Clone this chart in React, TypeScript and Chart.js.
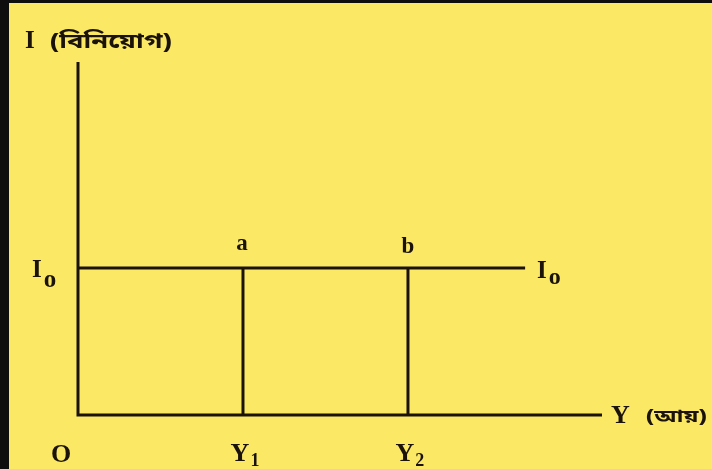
import React, { useEffect, useRef } from "react";
import { Chart, registerables } from "chart.js";

Chart.register(...registerables);

// Income levels marked on the horizontal axis (Y1, Y2)
const incomeLevels = [1, 2];
const incomeTickBase = ["Y", "Y"];
const incomeTickSub = ["1", "2"];
// Points on the investment line above each income level
const pointLabels = ["a", "b"];
// Autonomous investment level I0
const investmentLevel = 1;
const investmentLineEnd = 2.71;
// Axis extents
const incomeAxisMax = 3.176;
const investmentAxisMax = 2.4;
// Axis titles
const yAxisBase = "I";
const yAxisWord = "(বিনিয়োগ)";
const xAxisBase = "Y";
const xAxisWord = "(আয়)";
const originLabel = "O";
const investmentBase = "I";
const investmentSub = "o";

const INK = "#1b1309";
const PAPER = "#fbe966";
const FRAME = "#0e0e0e";
const SERIF = "'Liberation Serif', 'DejaVu Serif', serif";
const BENGALI = "'Noto Sans Bengali', 'Noto Serif Bengali', 'Lohit Bengali', 'Liberation Serif', sans-serif";

function drawSub(
  ctx: CanvasRenderingContext2D,
  base: string,
  sub: string,
  x: number,
  y: number,
  align: "left" | "center",
  baseSize: number,
  subSize: number,
  subDrop: number,
  gap: number
) {
  ctx.font = `bold ${baseSize}px ${SERIF}`;
  const wb = ctx.measureText(base).width;
  ctx.font = `bold ${subSize}px ${SERIF}`;
  const ws = ctx.measureText(sub).width;
  const total = wb + gap + ws;
  const left = align === "center" ? x - total / 2 : x;
  ctx.textAlign = "left";
  ctx.font = `bold ${baseSize}px ${SERIF}`;
  ctx.fillText(base, left, y);
  ctx.font = `bold ${subSize}px ${SERIF}`;
  ctx.fillText(sub, left + wb + gap, y + subDrop);
}

// Draws left-aligned text widened horizontally by a factor
function drawWide(ctx: CanvasRenderingContext2D, text: string, x: number, y: number, font: string, stretch: number) {
  ctx.save();
  ctx.font = font;
  ctx.textAlign = "left";
  ctx.translate(x, y);
  ctx.scale(stretch, 1);
  ctx.fillText(text, 0, 0);
  ctx.restore();
}

const paperPlugin = {
  id: "paper",
  beforeDraw(chart: Chart) {
    const { ctx, width, height } = chart;
    ctx.save();
    ctx.fillStyle = FRAME;
    ctx.fillRect(0, 0, width, height);
    ctx.fillStyle = PAPER;
    ctx.fillRect(9, 3, width - 9, height - 3);
    ctx.restore();
  },
};

const labelPlugin = {
  id: "diagramLabels",
  afterDatasetsDraw(chart: Chart) {
    const { ctx } = chart;
    const xs = chart.scales.x;
    const ys = chart.scales.y;
    const px = (v: number) => xs.getPixelForValue(v);
    const py = (v: number) => ys.getPixelForValue(v);
    ctx.save();
    ctx.fillStyle = INK;
    ctx.textBaseline = "alphabetic";

    // Vertical axis title
    ctx.textAlign = "left";
    ctx.font = `bold 25px ${SERIF}`;
    ctx.fillText(yAxisBase, px(0) - 53, py(investmentAxisMax) - 14);
    drawWide(ctx, yAxisWord, px(0) - 28, py(investmentAxisMax) - 14, `bold 21px ${BENGALI}`, 1.3);

    // Horizontal axis title
    ctx.font = `bold 26px ${SERIF}`;
    ctx.fillText(xAxisBase, px(incomeAxisMax) + 9, py(0) + 8);
    drawWide(ctx, xAxisWord, px(incomeAxisMax) + 44, py(0) + 7, `bold 18px ${BENGALI}`, 1.35);

    // Origin
    ctx.textAlign = "center";
    ctx.font = `bold 26px ${SERIF}`;
    ctx.fillText(originLabel, px(0) - 17, py(0) + 47);

    // I0 on both ends of the investment line
    drawSub(ctx, investmentBase, investmentSub, px(0) - 46, py(investmentLevel) + 9, "left", 25, 25, 10, 2);
    drawSub(ctx, investmentBase, investmentSub, px(investmentLineEnd) + 12, py(investmentLevel) + 10, "left", 25, 24, 6, 2);

    // Income levels and the matching points
    incomeLevels.forEach((lv, i) => {
      drawSub(ctx, incomeTickBase[i], incomeTickSub[i], px(lv) + 2, py(0) + 46, "center", 26, 18, 5, 1);
      ctx.textAlign = "center";
      ctx.font = `bold 23px ${SERIF}`;
      ctx.fillText(pointLabels[i], px(lv) - (i === 0 ? 1 : 0), py(investmentLevel) - (i === 0 ? 18 : 15));
    });

    ctx.restore();
  },
};

const lineStyle = {
  showLine: true,
  pointRadius: 0,
  borderColor: INK,
  borderWidth: 3,
  borderCapStyle: "butt" as const,
  borderJoinStyle: "miter" as const,
  clip: false as const,
  tension: 0,
};

export default function App() {
  const ref = useRef<HTMLCanvasElement>(null);

  useEffect(() => {
    if (!ref.current) return;
    const datasets: any[] = [
      {
        label: "axes",
        data: [
          { x: 0, y: investmentAxisMax },
          { x: 0, y: 0 },
          { x: incomeAxisMax, y: 0 },
        ],
        ...lineStyle,
      },
      {
        label: "I0",
        data: [
          { x: 0, y: investmentLevel },
          { x: investmentLineEnd, y: investmentLevel },
        ],
        ...lineStyle,
      },
      ...incomeLevels.map((lv, i) => ({
        label: incomeTickBase[i] + incomeTickSub[i],
        data: [
          { x: lv, y: 0 },
          { x: lv, y: investmentLevel },
        ],
        ...lineStyle,
      })),
    ];

    const chart = new Chart(ref.current, {
      type: "scatter",
      data: { datasets },
      options: {
        animation: false,
        responsive: false,
        devicePixelRatio: 1,
        layout: { padding: { left: 78, right: 110, top: 62, bottom: 54 } },
        plugins: { legend: { display: false }, tooltip: { enabled: false } },
        scales: {
          x: { type: "linear", min: 0, max: incomeAxisMax, display: false },
          y: { type: "linear", min: 0, max: investmentAxisMax, display: false },
        },
      },
      plugins: [paperPlugin, labelPlugin],
    });
    return () => chart.destroy();
  }, []);

  return (
    <div style={{ position: "fixed", left: 0, top: 0, width: 712, height: 469, background: FRAME }}>
      <canvas ref={ref} width={712} height={469} style={{ display: "block" }} />
    </div>
  );
}
